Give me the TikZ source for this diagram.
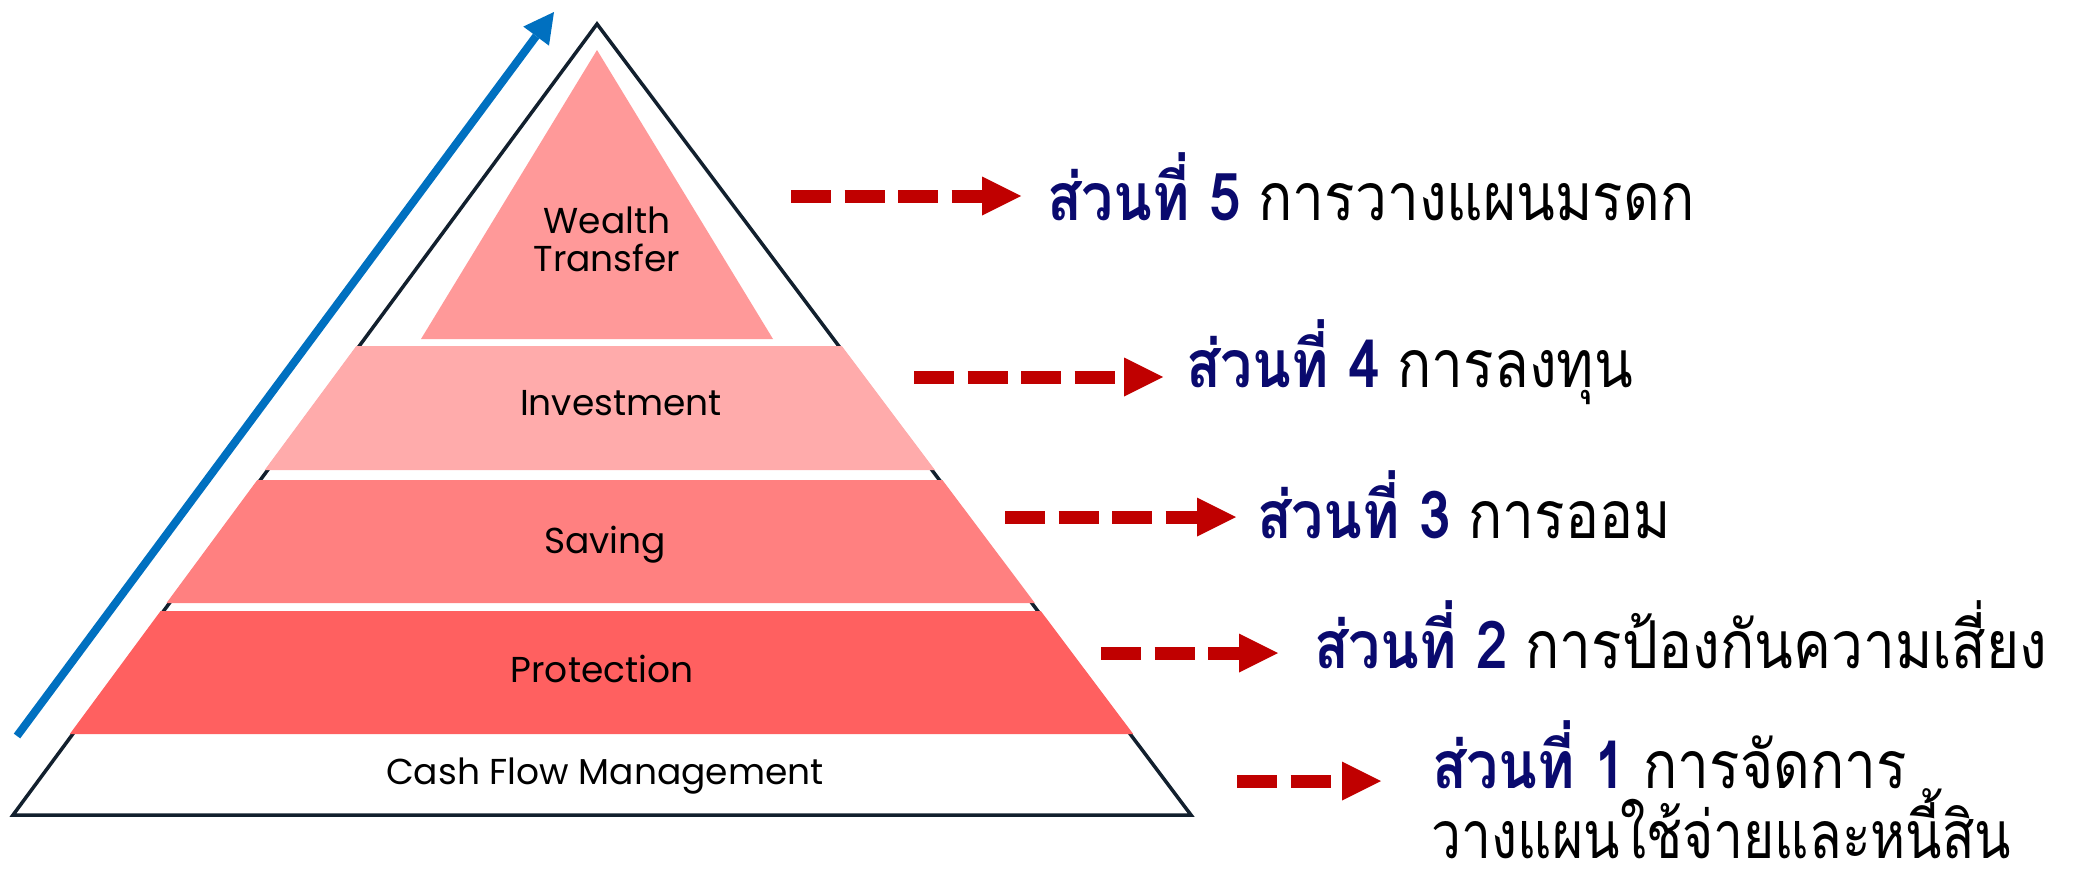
\documentclass[tikz,border=0pt]{standalone}
\usepackage{fontspec}
\newfontfamily\popfont{Poppins}
\newfontfamily\thaifont[Script=Thai,FakeStretch=0.86]{Loma}
\usetikzlibrary{arrows.meta}
\definecolor{outlineC}{RGB}{18,32,46}
\definecolor{wealthC}{RGB}{255,153,153}
\definecolor{investC}{RGB}{255,171,171}
\definecolor{savingC}{RGB}{255,128,128}
\definecolor{protectC}{RGB}{255,96,96}
\definecolor{navyT}{RGB}{10,10,110}
\definecolor{redA}{RGB}{192,0,0}
\definecolor{blueA}{RGB}{0,112,192}
\tikzset{
  band/.style={draw=none},
  plabel/.style={anchor=base, inner sep=0pt, font=\popfont\fontsize{36}{40}\selectfont, text=black},
  tlabel/.style={anchor=base west, inner sep=4pt, font=\thaifont\fontsize{66}{70}\selectfont},
  redarrow/.style={draw=redA, line width=13pt, dash pattern=on 40pt off 13.5pt,
    -{Triangle[length=39pt,width=39pt,line width=0pt]}},
  bluearrow/.style={draw=blueA, line width=8pt, -{Triangle[length=30pt,width=32pt,line width=0pt]}},
}
\newcommand{\partlab}[2]{{\bfseries\color{navyT}ส่วนที่ #1}\hspace{18pt}#2}
\begin{document}
\begin{tikzpicture}[x=1pt,y=-1pt]
\useasboundingbox (0,0) rectangle (2073,873);
% outer pyramid
\coordinate (apex) at (597,24);
\coordinate (bl) at (13,815);
\coordinate (br) at (1191,815);
\draw[outlineC, line width=3.5pt, line join=miter] (apex) -- (br) -- (bl) -- cycle;
% bands
\fill[band, investC] (356.3,346) -- (841.8,346) -- (934.9,470) -- (264.7,470) -- cycle;
\fill[band, savingC] (257.3,480) -- (942.4,480) -- (1034.8,603) -- (166.5,603) -- cycle;
\fill[band, protectC] (160.6,611) -- (1040.8,611) -- (1133.2,734) -- (69.8,734) -- cycle;
\fill[band, wealthC] (597,50) -- (773,339) -- (421,339) -- cycle;
% pyramid labels
\node[plabel] (wealth) at (607,233) {Wealth};
\node[plabel] (transfer) at (607,271) {Transfer};
\node[plabel] (invest) at (621,415) {Investment};
\node[plabel] (saving) at (605,553) {Saving};
\node[plabel] (protect) at (602,682) {Protection};
\node[plabel] (cash) at (605,784) {Cash Flow Management};
% blue arrow
\coordinate (b0) at (17,736);
\coordinate (b1) at (554,12);
\draw[bluearrow] (b0) -- (b1);
% red arrows
\coordinate (s5) at (791,196); \coordinate (t5) at (1021,196);
\coordinate (s4) at (914,377); \coordinate (t4) at (1163,377);
\coordinate (s3) at (1005,517); \coordinate (t3) at (1236,517);
\coordinate (s2) at (1101,653); \coordinate (t2) at (1278,653);
\coordinate (s1) at (1237,781); \coordinate (t1) at (1381,781);
\draw[redarrow] (s5) -- (t5);
\draw[redarrow] (s4) -- (t4);
\draw[redarrow] (s3) -- (t3);
\draw[redarrow] (s2) -- (t2);
\draw[redarrow] (s1) -- (t1);
% texts
\node[tlabel] (lab5) at (1043,220) {\partlab{5}{การวางแผนมรดก}};
\node[tlabel] (lab4) at (1182,387) {\partlab{4}{การลงทุน}};
\node[tlabel] (lab3) at (1253,538) {\partlab{3}{การออม}};
\node[tlabel] (lab2) at (1310,668) {\partlab{2}{การป้องกันความเสี่ยง}};
\node[tlabel] (lab1) at (1428,788) {\partlab{1}{การจัดการ}};
\node[tlabel, xscale=0.94] (lab1b) at (1428,858) {วางแผนใช้จ่ายและหนี้สิน};
\end{tikzpicture}
\end{document}
